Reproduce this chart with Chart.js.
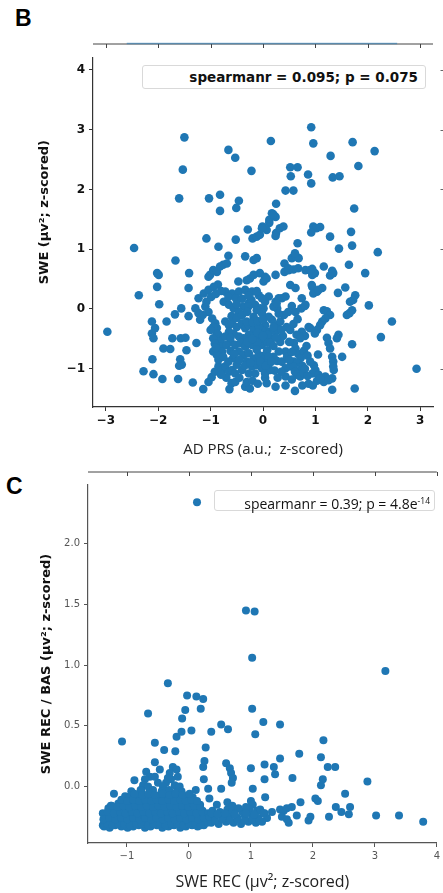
<!DOCTYPE html>
<html>
<head>
<meta charset="utf-8">
<script src="https://cdn.jsdelivr.net/npm/chart.js@4.4.1/dist/chart.umd.min.js"></script>
<style>
  body { margin: 0; width: 443px; height: 893px; background: #fff; position: relative; overflow: hidden; }
  .wrap { position: absolute; left: 0; width: 443px; }
  #wrapB { top: 0; height: 462px; }
  #wrapC { top: 462px; height: 431px; }
  .letter { position: absolute; font: bold 23px 'Liberation Sans', Arial, sans-serif; line-height: 23px; color: #000; }
  .legend { position: absolute; background: #fff; border: 1px solid #d9d9d9; border-radius: 3px; box-sizing: border-box; text-align: right; white-space: nowrap; color: #111; }
  #legB { left: 142px; top: 65px; width: 284px; height: 24px; font: bold 13.5px 'DejaVu Sans'; line-height: 22px; padding-right: 7px; }
  #legC { left: 214px; top: 490px; width: 221px; height: 21px; font: 14px 'Open Sans'; line-height: 19px; padding-right: 4px; }
  #legC sup { font-size: 8.5px; vertical-align: 5px; }
</style>
</head>
<body>
<div class="letter" style="left:15px; top:7px;">B</div>
<div class="letter" style="left:6px; top:475px;">C</div>
<div class="wrap" id="wrapB"><canvas id="chartB"></canvas></div>
<div class="wrap" id="wrapC"><canvas id="chartC"></canvas></div>
<div class="legend" id="legB">spearmanr = 0.095; p = 0.075</div>
<div class="legend" id="legC">spearmanr = 0.39; p = 4.8e<sup>-14</sup></div>
<script>
// panel B: AD PRS vs SWE
const xTicksB = [-3, -2, -1, 0, 1, 2, 3];
const yTicksB = [-1, 0, 1, 2, 3, 4];
const topStripB = [-2.6, 2.56];
const pointsB = [
  [-1.50,2.87],[-1.53,2.33],[-1.60,1.85],[-1.03,1.85],[-0.82,1.91],[-0.82,1.64],[-0.46,1.81],[-0.51,1.69],
  [-0.66,2.66],[-0.53,2.53],[-0.22,2.31],[0.15,2.81],[0.92,3.04],[0.96,2.77],[1.29,2.56],[1.71,2.79],
  [2.13,2.64],[1.82,2.39],[0.52,2.37],[0.66,2.37],[0.53,2.22],[0.86,2.25],[0.92,2.10],[1.33,2.20],
  [1.46,2.22],[0.43,1.98],[0.58,1.98],[0.25,1.76],[1.74,1.68],[0.17,1.60],[0.24,1.54],[0.12,1.49],
  [0.20,1.58],[0.12,1.44],
  [-2.46,1.02],[-1.08,1.18],[-0.85,1.04],[-0.52,1.16],[-0.29,1.33],[-0.20,1.18],[-0.12,1.21],[-0.06,1.24],
  [-0.01,1.38],[0.07,1.32],[-0.02,1.35],[0.25,1.27],[0.32,1.35],[0.39,1.38],[0.24,1.22],[0.66,1.10],
  [0.96,1.38],[1.02,1.35],[1.09,1.37],[0.92,1.28],[1.28,1.21],[1.68,1.29],[1.45,1.01],[1.70,1.06],[2.19,0.95],
  [-1.67,0.81],[-2.02,0.60],[-1.99,0.57],[-1.41,0.60],[-0.66,0.89],[-0.34,0.88],[-0.18,0.82],[-0.12,0.85],
  [0.55,0.85],[0.62,0.88],[0.68,0.85],[0.61,0.93],[0.41,0.76],[0.48,0.68],[0.58,0.66],[0.67,0.68],
  [-0.76,0.74],[-0.69,0.76],[-0.95,0.65],[-0.88,0.62],[-0.82,0.71],[-1.01,0.57],[-1.04,0.54],
  [-0.06,0.60],[0.04,0.54],[0.01,0.46],[0.07,0.51],[0.24,0.57],[0.41,0.62],[0.49,0.65],[0.81,0.65],
  [0.94,0.67],[0.94,0.57],[1.16,0.71],[1.32,0.64],[1.28,0.56],[1.64,0.74],[1.95,0.60],[-0.47,0.46],
  [-0.31,0.48],[-0.25,0.51],[-0.18,0.57],[-0.86,0.41],[0.99,0.60],[0.90,0.65],[1.34,0.60],
  [-2.37,0.23],[-2.02,0.37],[-1.42,0.35],[-1.98,0.08],[0.52,0.40],[0.62,0.35],[0.94,0.37],[1.03,0.29],
  [1.13,0.35],[1.43,0.27],[1.57,0.36],[1.76,0.23],[1.72,0.15],[2.02,0.06],[0.74,0.18],[0.81,0.07],
  [0.73,0.01],[0.27,0.01],[0.24,0.12],[0.30,0.18],[0.36,0.18],[0.43,0.21],[0.11,0.21],[0.04,0.12],
  [0.01,0.01],[-1.23,0.18],[-1.13,0.26],[-1.04,0.32],[-0.94,0.37],[-0.72,0.29],[-0.59,0.26],[-0.46,0.29],
  [-0.34,0.32],[-0.21,0.29],[-0.08,0.23],[-0.02,0.18],[-0.75,0.12],[-0.65,0.07],[-0.56,0.01],[-0.37,0.04],
  [-0.27,0.10],[-0.15,0.07],[-0.05,0.01],[-1.29,0.01],[-1.10,0.04],[-1.56,0.01],[0.55,0.05],[0.48,-0.05],
  [0.80,0.05],[0.20,0.04],[0.26,0.09],[0.96,0.26],[1.06,0.32],[0.93,0.40],[1.66,0.12],
  [-2.97,-0.38],[-2.12,-0.21],[-2.06,-0.32],[-2.12,-0.41],[-2.09,-0.49],[-1.84,-0.21],[-1.68,-0.09],
  [-1.42,-0.12],[-1.73,-0.49],[-1.57,-0.49],[-1.48,-0.48],[-1.27,-0.57],[-1.90,-0.66],[-1.77,-0.67],
  [-1.46,-0.69],[-2.11,-0.84],[-1.58,-0.84],[-1.55,-0.93],[-1.60,-0.95],[-2.28,-1.04],[-2.09,-1.09],
  [-1.92,-1.17],[-1.62,-1.17],[-1.34,-1.23],[-1.14,-1.34],[-1.04,-1.22],[-0.98,-1.14],[-0.92,-1.05],
  [-0.85,-0.96],[-0.64,-1.34],[-0.60,-1.24],[-0.53,-1.22],[-0.34,-1.30],[-0.25,-1.33],[-0.31,-1.22],
  [0.04,-1.15],[0.07,-1.24],[0.24,-1.30],[0.43,-1.28],[0.61,-1.37],[0.87,-1.25],[1.32,-1.35],[1.75,-1.33],
  [2.93,-1.00],[2.25,-0.47],[2.46,-0.21],[1.70,-0.59],[1.44,-0.43],[1.41,-0.49],[1.51,-0.80],[1.32,-0.80],
  [1.34,-0.88],[1.35,-1.02],[1.32,-1.16],[1.22,-0.48],[1.25,-0.57],[1.28,-0.66],[1.16,-0.02],[1.22,-0.04],
  [1.28,-0.10],[1.19,-0.16],[1.13,-0.21],[1.09,-0.27],[1.03,-0.35],[0.99,-0.41],[0.87,-0.30],[1.65,-0.07],
  [1.70,-0.02],[1.60,-0.10],[0.59,-0.57],[0.62,-0.66],[1.05,-0.76],[0.97,-0.94],[1.00,-1.02],[0.94,-1.08],
  [1.06,-1.10],[1.13,-1.16],[1.19,-1.13],[1.16,-1.22],[1.03,-1.20],[1.09,-1.16],[1.25,-1.19],[1.34,-0.96],
  [0.43,-1.13],[0.22,-1.03],[0.11,-0.91],[0.04,-0.77],[0.20,-0.80],[0.27,-0.87],[0.36,-0.88],[0.43,-0.99],
  [0.52,-0.96],[0.59,-0.88],[0.43,-0.71],[0.46,-0.80],[0.30,-0.71],[-0.02,-0.60],[0.08,-0.55],[0.17,-0.49],
  [0.11,-0.38],[0.04,-0.27],[-0.02,-0.35],[0.24,-0.38],[0.27,-0.27],[0.33,-0.21],[0.17,-0.18],[0.11,-0.13],
  [-0.02,-0.07],[0.45,-0.30],[0.52,-0.35],[0.58,-0.25],[0.66,-0.17],[0.74,-0.38],[0.80,-0.45],[0.64,-0.43],
  [0.71,-0.49],[0.62,-0.05],[0.67,-0.75],[0.72,-0.82],[0.65,-0.90],[0.75,-0.95],[0.70,-1.03],[0.78,-0.70],
  [0.85,-0.78],[0.58,-0.96],[0.61,-1.05],[0.64,-1.10],[0.71,-1.13],[0.77,-1.07],[0.90,-0.88],[0.83,-0.62],
  [0.90,-0.32],
  [-1.23,-0.07],[-1.20,-0.18],[-1.04,-0.05],[-0.97,-0.16],[-0.91,-0.24],[-0.88,-0.32],[-0.85,-0.43],
  [-0.81,-0.52],[-0.81,-0.63],[-0.78,-0.71],[-0.85,-0.85],[-0.78,-1.02],[-0.72,-0.96],[-0.65,-1.05],
  [-0.59,-1.02],[-0.53,-1.08],[-0.95,-0.30],[-0.88,-0.41],[-0.95,-0.49],[-0.95,-0.71],[-0.88,-0.77],
  [-0.72,-0.21],[-0.65,-0.27],[-0.59,-0.24],[-0.50,-0.30],[-0.40,-0.24],[-0.34,-0.32],[-0.27,-0.27],
  [-0.18,-0.35],[-0.08,-0.30],[0.08,-0.43],[-0.05,-0.49],[-0.15,-0.46],[-0.27,-0.43],[-0.37,-0.49],
  [-0.46,-0.46],[-0.56,-0.41],[-0.65,-0.38],[-0.72,-0.46],[-0.62,-0.55],[-0.53,-0.60],[-0.43,-0.57],
  [-0.34,-0.63],[-0.21,-0.60],[-0.11,-0.57],[0.08,-0.69],[0.14,-0.57],[-0.46,-0.71],[-0.37,-0.77],
  [-0.27,-0.74],[-0.18,-0.83],[-0.08,-0.77],[0.01,-0.85],[0.11,-0.80],[-0.31,-0.88],[-0.21,-0.96],
  [-0.11,-0.94],[-0.02,-0.99],[0.08,-0.91],[-0.40,-1.02],[-0.27,-1.08],[-0.15,-1.08],[0.04,-1.08],
  [0.14,-1.02],[-0.31,-0.21],[-0.18,-0.13],[-0.12,-0.02],[-0.22,0.15],[-0.28,0.04],[-0.46,-0.05],
  [-0.57,-0.82],[-0.66,-0.88],[-0.50,-0.93],
  [-1.15,-0.10],[-1.08,0.12],[-0.99,0.20],[-0.90,0.25],[-0.80,0.30],[-0.66,0.20],[-0.52,0.18],[-0.40,0.17],
  [-0.28,0.22],[-0.12,0.30],[-1.00,-0.35],[-0.92,-0.58],[-0.90,-0.65],[-0.70,-0.60],[-0.76,-0.80],[-0.62,-0.70],
  [-0.55,-0.75],[-0.45,-0.85],[-0.35,-0.95],[-0.24,-0.90],[-0.12,-0.68],[-0.05,-0.88],[0.05,-0.95],[0.16,-0.88],
  [0.20,-0.62],[0.33,-0.55],[0.38,-0.45],[0.35,-0.35],[0.40,-0.10],[0.30,-0.08],[-0.60,-0.12],[-0.50,-0.15],
  [-0.40,-0.10],[-0.30,-0.05],[-0.20,-0.22],[-0.10,-0.20],[0.00,-0.18],[0.20,-0.30],[-0.50,0.08],[-0.62,-0.48],
  [-0.30,-0.55],[-0.20,-0.50],[-0.10,-0.40],[0.00,-0.45],[0.25,-0.48],[0.50,-0.55],[0.55,-0.72],[0.50,-0.85],
  [0.35,-1.05],[0.28,-1.15],[-0.45,-1.15],[-0.20,-1.20],[-0.10,-1.25],[-0.70,-1.15],[-0.80,-1.10],[0.55,-1.18],
  [0.80,-1.00],[0.85,-1.12],[0.95,-1.28],[0.75,-1.28]
];

// panel C: SWE REC vs SWE REC / BAS
const xTicksC = [-1, 0, 1, 2, 3, 4];
const yTicksC = [0, 0.5, 1, 1.5, 2];
const pointsC = [
  [0.13,2.34],[0.92,1.45],[1.06,1.44],[1.02,1.06],[3.17,0.95],[-0.34,0.85],[-0.03,0.75],[0.12,0.74],
  [0.23,0.72],[0.19,0.64],[-0.06,0.63],[-0.11,0.56],[-0.66,0.60],[1.02,0.64],[1.20,0.53],[1.47,0.51],
  [1.07,0.43],[0.52,0.51],[0.63,0.47],[0.36,0.45],[0.04,0.46],[-0.12,0.45],[-0.20,0.41],[-1.08,0.37],
  [-0.55,0.36],[-0.40,0.30],[-0.22,0.29],[0.27,0.32],[2.17,0.38],[1.78,0.27],[1.47,0.23],[2.13,0.24],
  [-0.55,0.20],[0.25,0.21],[0.23,0.16],[0.60,0.19],[0.66,0.15],[0.68,0.11],[0.71,0.07],[0.69,0.03],
  [1.00,0.15],[1.22,0.18],[1.37,0.16],[1.39,0.10],[1.22,0.06],[1.67,0.07],[2.24,0.16],[2.36,0.16],
  [2.16,0.06],[2.13,0.01],[2.88,0.04],[0.24,0.06],[0.11,-0.03],[0.31,-0.02],[0.33,-0.10],[0.52,-0.02],
  [1.03,-0.02],[1.23,-0.09],[-1.21,-0.06],[-1.03,-0.08],[1.00,-0.12],[1.03,-0.15],[2.04,-0.10],[2.08,-0.12],
  [2.52,-0.06],[2.60,-0.17],[2.58,-0.23],[2.37,-0.17],[2.46,-0.21],[1.80,-0.13],[1.22,-0.22],[1.26,-0.26],
  [1.34,-0.21],[1.47,-0.19],[1.53,-0.20],[1.58,-0.18],[1.66,-0.17],[1.50,-0.25],[1.58,-0.27],[1.61,-0.30],
  [1.74,-0.24],[1.96,-0.25],[1.93,-0.28],[2.26,-0.25],[3.02,-0.24],[3.39,-0.24],[3.78,-0.29],
  [-0.26,0.16],[-0.20,0.14],[-0.31,0.11],[-0.34,0.07],[-0.37,0.03],[-0.29,0.06],[-0.23,0.01],[-0.18,0.08],
  [-0.15,0.00],[-0.12,-0.04],[-0.40,-0.03],[-0.69,0.12],[-0.63,0.08],[-0.71,0.06],[-0.74,0.01],[-0.66,0.00],
  [-0.58,-0.03],[-0.77,-0.03],[-0.88,0.05],[-0.50,0.03],[-0.42,0.00],[-0.55,0.08],[-0.47,0.14],
  [-1.39,-0.22],[-1.39,-0.32],[-1.26,-0.16],
  [-1.37,-0.33],[-1.28,-0.34],[-1.19,-0.32],[-1.09,-0.33],[-0.99,-0.34],[-0.90,-0.33],[-0.81,-0.32],
  [-0.71,-0.34],[-0.62,-0.33],[-0.52,-0.32],[-0.43,-0.34],[-0.33,-0.33],[-0.24,-0.32],[-0.14,-0.34],
  [-0.05,-0.33],[0.05,-0.32],[0.14,-0.33],[0.24,-0.32],
  [-1.33,-0.29],[-1.23,-0.28],[-1.14,-0.30],[-1.04,-0.29],[-0.95,-0.28],[-0.85,-0.30],[-0.76,-0.29],
  [-0.66,-0.28],[-0.57,-0.30],[-0.47,-0.29],[-0.38,-0.28],[-0.28,-0.30],[-0.19,-0.29],[-0.10,-0.28],
  [0.00,-0.30],[0.10,-0.29],[0.19,-0.28],[0.29,-0.30],
  [-1.36,-0.23],[-1.26,-0.24],[-1.16,-0.25],[-1.06,-0.23],[-0.97,-0.24],[-0.87,-0.25],[-0.78,-0.23],
  [-0.68,-0.24],[-0.59,-0.25],[-0.50,-0.23],[-0.40,-0.24],[-0.31,-0.25],[-0.21,-0.23],[-0.12,-0.24],
  [-0.02,-0.25],[0.07,-0.23],[0.17,-0.24],[0.27,-0.25],
  [-1.30,-0.18],[-1.20,-0.20],[-1.10,-0.19],[-1.01,-0.18],[-0.91,-0.20],[-0.82,-0.19],[-0.72,-0.18],
  [-0.63,-0.20],[-0.53,-0.19],[-0.44,-0.18],[-0.35,-0.20],[-0.25,-0.19],[-0.16,-0.18],[-0.06,-0.20],
  [0.03,-0.19],[0.13,-0.18],[0.22,-0.20],
  [-1.14,-0.14],[-1.04,-0.13],[-0.95,-0.15],[-0.85,-0.14],[-0.76,-0.13],[-0.66,-0.15],[-0.57,-0.14],
  [-0.48,-0.13],[-0.38,-0.15],[-0.29,-0.14],[-0.19,-0.13],[-0.10,-0.15],[0.00,-0.14],[0.09,-0.13],[0.18,-0.15],
  [-0.96,-0.09],[-0.82,-0.08],[-0.70,-0.10],[-0.60,-0.09],[-0.49,-0.08],[-0.37,-0.10],[-0.27,-0.09],
  [-0.16,-0.08],[-0.05,-0.10],[0.06,-0.09],
  [-0.93,-0.04],[-0.78,-0.03],[-0.64,-0.05],[-0.44,-0.04],[-0.32,-0.03],[-0.21,-0.05],
  [-1.32,-0.31],[-1.23,-0.32],[-1.14,-0.31],[-1.04,-0.31],[-0.95,-0.32],[-0.85,-0.31],[-0.76,-0.31],
  [-0.66,-0.32],[-0.57,-0.31],[-0.47,-0.31],[-0.38,-0.32],[-0.28,-0.31],[-0.19,-0.31],[-0.09,-0.32],
  [0.00,-0.31],[0.10,-0.31],[0.19,-0.32],
  [-1.38,-0.27],[-1.28,-0.26],[-1.19,-0.27],[-1.09,-0.26],[-0.99,-0.27],[-0.90,-0.26],[-0.80,-0.27],
  [-0.71,-0.26],[-0.61,-0.27],[-0.52,-0.26],[-0.42,-0.27],[-0.33,-0.26],[-0.23,-0.27],[-0.14,-0.26],
  [-0.04,-0.27],[0.05,-0.26],[0.15,-0.27],[0.24,-0.26],
  [-1.31,-0.21],[-1.21,-0.22],[-1.11,-0.21],[-1.02,-0.22],[-0.92,-0.21],[-0.83,-0.22],[-0.73,-0.21],
  [-0.64,-0.22],[-0.54,-0.21],[-0.45,-0.22],[-0.35,-0.21],[-0.26,-0.22],[-0.16,-0.21],[-0.07,-0.22],
  [0.02,-0.21],[0.12,-0.22],[0.22,-0.21],[0.31,-0.22],
  [-1.25,-0.16],[-1.15,-0.17],[-1.06,-0.16],[-0.96,-0.17],[-0.87,-0.16],[-0.77,-0.17],[-0.68,-0.16],
  [-0.58,-0.17],[-0.49,-0.16],[-0.39,-0.17],[-0.30,-0.16],[-0.20,-0.17],[-0.11,-0.16],[-0.01,-0.17],
  [0.08,-0.16],[0.18,-0.17],
  [-1.09,-0.11],[-0.99,-0.12],[-0.90,-0.11],[-0.80,-0.12],[-0.71,-0.11],[-0.61,-0.12],[-0.52,-0.11],
  [-0.43,-0.12],[-0.33,-0.11],[-0.24,-0.12],[-0.14,-0.11],[-0.05,-0.12],[0.04,-0.11],[0.13,-0.12],
  [-0.88,-0.06],[-0.75,-0.07],[-0.65,-0.06],[-0.55,-0.07],[-0.42,-0.06],[-0.31,-0.07],[-0.22,-0.06],
  [-0.10,-0.07],[0.01,-0.06],
  [0.36,-0.30],[0.48,-0.31],[0.60,-0.29],[0.72,-0.30],[0.84,-0.31],[0.96,-0.29],[1.08,-0.30],[1.18,-0.29],
  [0.33,-0.25],[0.42,-0.26],[0.54,-0.24],[0.66,-0.25],[0.78,-0.26],[0.90,-0.24],[1.02,-0.25],[1.12,-0.26],
  [0.38,-0.20],[0.50,-0.21],[0.62,-0.19],[0.70,-0.20],[0.86,-0.21],[0.98,-0.19],[1.10,-0.20],
  [0.45,-0.15],[0.62,-0.13],[0.70,-0.16],[0.80,-0.18],[0.92,-0.17],[1.15,-0.19],
  [0.42,-0.28],[0.54,-0.27],[0.66,-0.28],[0.78,-0.27],[0.90,-0.28],[1.02,-0.27],[1.14,-0.28],
  [0.36,-0.22],[0.46,-0.23],[0.58,-0.22],[0.74,-0.23],[0.92,-0.22],[1.05,-0.23],[1.20,-0.22]
];

const dotColor = '#1f77b4';
const minus = v => (v < 0 ? '\u2212' + Math.abs(v) : String(v));

// axis line + ticks of the neighbouring (cropped) panels
const cropEdges = {
  id: 'cropEdges',
  afterDraw(chart, args, opts) {
    const { ctx, chartArea, scales: { x, y } } = chart;
    const top = chartArea.top - opts.gap;
    ctx.save();
    ctx.strokeStyle = '#444';
    ctx.lineWidth = 1;
    ctx.beginPath();
    ctx.moveTo(chartArea.left, top);
    ctx.lineTo(chartArea.right, top);
    x.ticks.forEach(t => {
      const px = Math.round(x.getPixelForValue(t.value)) + 0.5;
      ctx.moveTo(px, top);
      ctx.lineTo(px, top + 4);
    });
    ctx.stroke();
    if (opts.strip) {
      ctx.strokeStyle = 'rgba(31,119,180,0.55)';
      ctx.lineWidth = 1.5;
      ctx.beginPath();
      ctx.moveTo(x.getPixelForValue(opts.strip[0]), top - 0.5);
      ctx.lineTo(x.getPixelForValue(opts.strip[1]), top - 0.5);
      ctx.stroke();
    }
    if (opts.rightTicks) {
      ctx.strokeStyle = '#666';
      ctx.lineWidth = 1;
      ctx.beginPath();
      y.ticks.forEach(t => {
        const py = Math.round(y.getPixelForValue(t.value)) + 0.5;
        ctx.moveTo(chart.width - 2.5, py);
        ctx.lineTo(chart.width, py);
      });
      ctx.stroke();
    }
    ctx.restore();
  }
};

new Chart(document.getElementById('chartB'), {
  type: 'scatter',
  data: {
    datasets: [{
      data: pointsB.map(([x, y]) => ({ x, y })),
      backgroundColor: dotColor,
      borderWidth: 0,
      pointRadius: 4.3,
      pointHoverRadius: 4.3
    }]
  },
  options: {
    responsive: true,
    maintainAspectRatio: false,
    animation: false,
    layout: { padding: { top: 58, right: 10, left: 0, bottom: 0 } },
    plugins: {
      legend: { display: false },
      tooltip: { enabled: false },
      cropEdges: { gap: 14, strip: topStripB, rightTicks: true }
    },
    scales: {
      x: {
        type: 'linear', min: -3.244, max: 3.244,
        afterBuildTicks: s => { s.ticks = xTicksB.map(v => ({ value: v })); },
        afterFit: s => { s.height = 55; },
        grid: { drawOnChartArea: false, tickLength: 4, color: '#333' },
        border: { color: '#333', width: 1.2 },
        ticks: { color: '#111', padding: 3, font: { family: 'DejaVu Sans', size: 12, weight: 'bold' }, callback: v => minus(v) },
        title: { display: true, text: 'AD PRS (a.u.;  z-scored)', color: '#222', font: { family: 'Open Sans', size: 15 }, padding: { top: 0, bottom: 3 } }
      },
      y: {
        type: 'linear', min: -1.639, max: 4.197,
        afterBuildTicks: s => { s.ticks = yTicksB.map(v => ({ value: v })); },
        afterFit: s => { s.width = 93; },
        grid: { drawOnChartArea: false, tickLength: 4, color: '#333' },
        border: { color: '#333', width: 1.2 },
        ticks: { color: '#111', padding: 4, font: { family: 'DejaVu Sans', size: 12, weight: 'bold' }, callback: v => minus(v) },
        // leading spaces lift the label a little above the axis centre, as in the figure
        title: { display: true, text: '         SWE (µv²; z-scored)', color: '#111', font: { family: 'DejaVu Sans', size: 13, weight: 'bold' }, padding: { top: 37, bottom: 0 } }
      }
    }
  },
  plugins: [cropEdges]
});

new Chart(document.getElementById('chartC'), {
  type: 'scatter',
  data: {
    datasets: [{
      data: pointsC.map(([x, y]) => ({ x, y })),
      backgroundColor: dotColor,
      borderWidth: 0,
      pointRadius: 4,
      pointHoverRadius: 4
    }]
  },
  options: {
    responsive: true,
    maintainAspectRatio: false,
    animation: false,
    layout: { padding: { top: 23, right: 6, left: 0, bottom: 0 } },
    plugins: {
      legend: { display: false },
      tooltip: { enabled: false },
      cropEdges: { gap: 13 }
    },
    scales: {
      x: {
        type: 'linear', min: -1.629, max: 4.0,
        afterBuildTicks: s => { s.ticks = xTicksC.map(v => ({ value: v })); },
        afterFit: s => { s.height = 50; },
        grid: { drawOnChartArea: false, tickLength: 4, color: '#555' },
        border: { color: '#555', width: 1.2 },
        ticks: { color: '#555', padding: 3, font: { family: 'DejaVu Sans', size: 10 }, callback: v => minus(v) },
        title: { display: true, text: 'SWE REC (µv²; z-scored)', color: '#222', font: { family: 'Open Sans', size: 16 }, padding: { top: 0, bottom: 1.4 } }
      },
      y: {
        type: 'linear', min: -0.466, max: 2.483,
        afterBuildTicks: s => { s.ticks = yTicksC.map(v => ({ value: v })); },
        afterFit: s => { s.width = 88; },
        grid: { drawOnChartArea: false, tickLength: 4, color: '#555' },
        border: { color: '#555', width: 1.2 },
        ticks: { color: '#555', padding: 4, font: { family: 'DejaVu Sans', size: 10 }, callback: v => v.toFixed(1) },
        title: { display: true, text: 'SWE REC / BAS (µv²; z-scored)', color: '#111', font: { family: 'DejaVu Sans', size: 13, weight: 'bold' }, padding: { top: 39, bottom: 0 } }
      }
    }
  },
  plugins: [cropEdges]
});
</script>
</body>
</html>
